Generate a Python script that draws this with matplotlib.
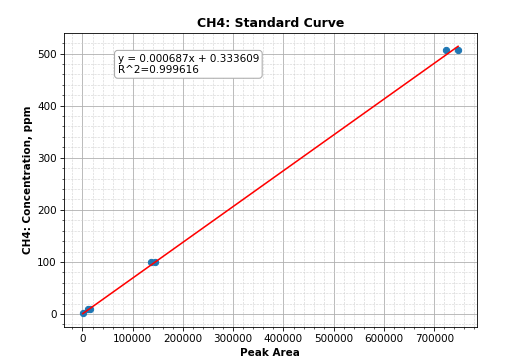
import numpy as np
import matplotlib
matplotlib.use("Agg")
import matplotlib.pyplot as plt

peak_area = [600, 12000, 15000, 137000, 145000, 723600, 747500]
concentration = [1.0, 10.0, 10.0, 100.0, 100.0, 507.0, 507.0]
slope = 0.000687
intercept = 0.333609
r2 = 0.999616

x = np.array(peak_area)
y = np.array(concentration)

fig, ax = plt.subplots(figsize=(6.8, 362 / 75), dpi=75)
ax.scatter(x, y, color="#1f77b4", zorder=3)
xl = np.array([x.min(), x.max()])
ax.plot(xl, slope * xl + intercept, color="red", zorder=4)
ax.minorticks_on()
ax.grid(which="major", color="#b0b0b0", linewidth=0.8)
ax.grid(which="minor", color="#cccccc", linestyle="--", linewidth=0.6, alpha=0.8)
ax.set_axisbelow(True)
ax.set_title("CH4: Standard Curve", fontweight="bold")
ax.set_xlabel("Peak Area", fontweight="bold")
ax.set_ylabel("CH4: Concentration, ppm", fontweight="bold")
ax.text(0.13, 0.93, f"y = {slope:.6f}x + {intercept:.6f}\nR^2={r2:.6f}",
        transform=ax.transAxes, va="top", ha="left", fontsize=10,
        bbox=dict(boxstyle="round", facecolor="white", edgecolor="#aaaaaa"))
fig.subplots_adjust(left=0.1255, right=0.935, top=0.909, bottom=0.0967)
fig.savefig("out.png", dpi=75)
